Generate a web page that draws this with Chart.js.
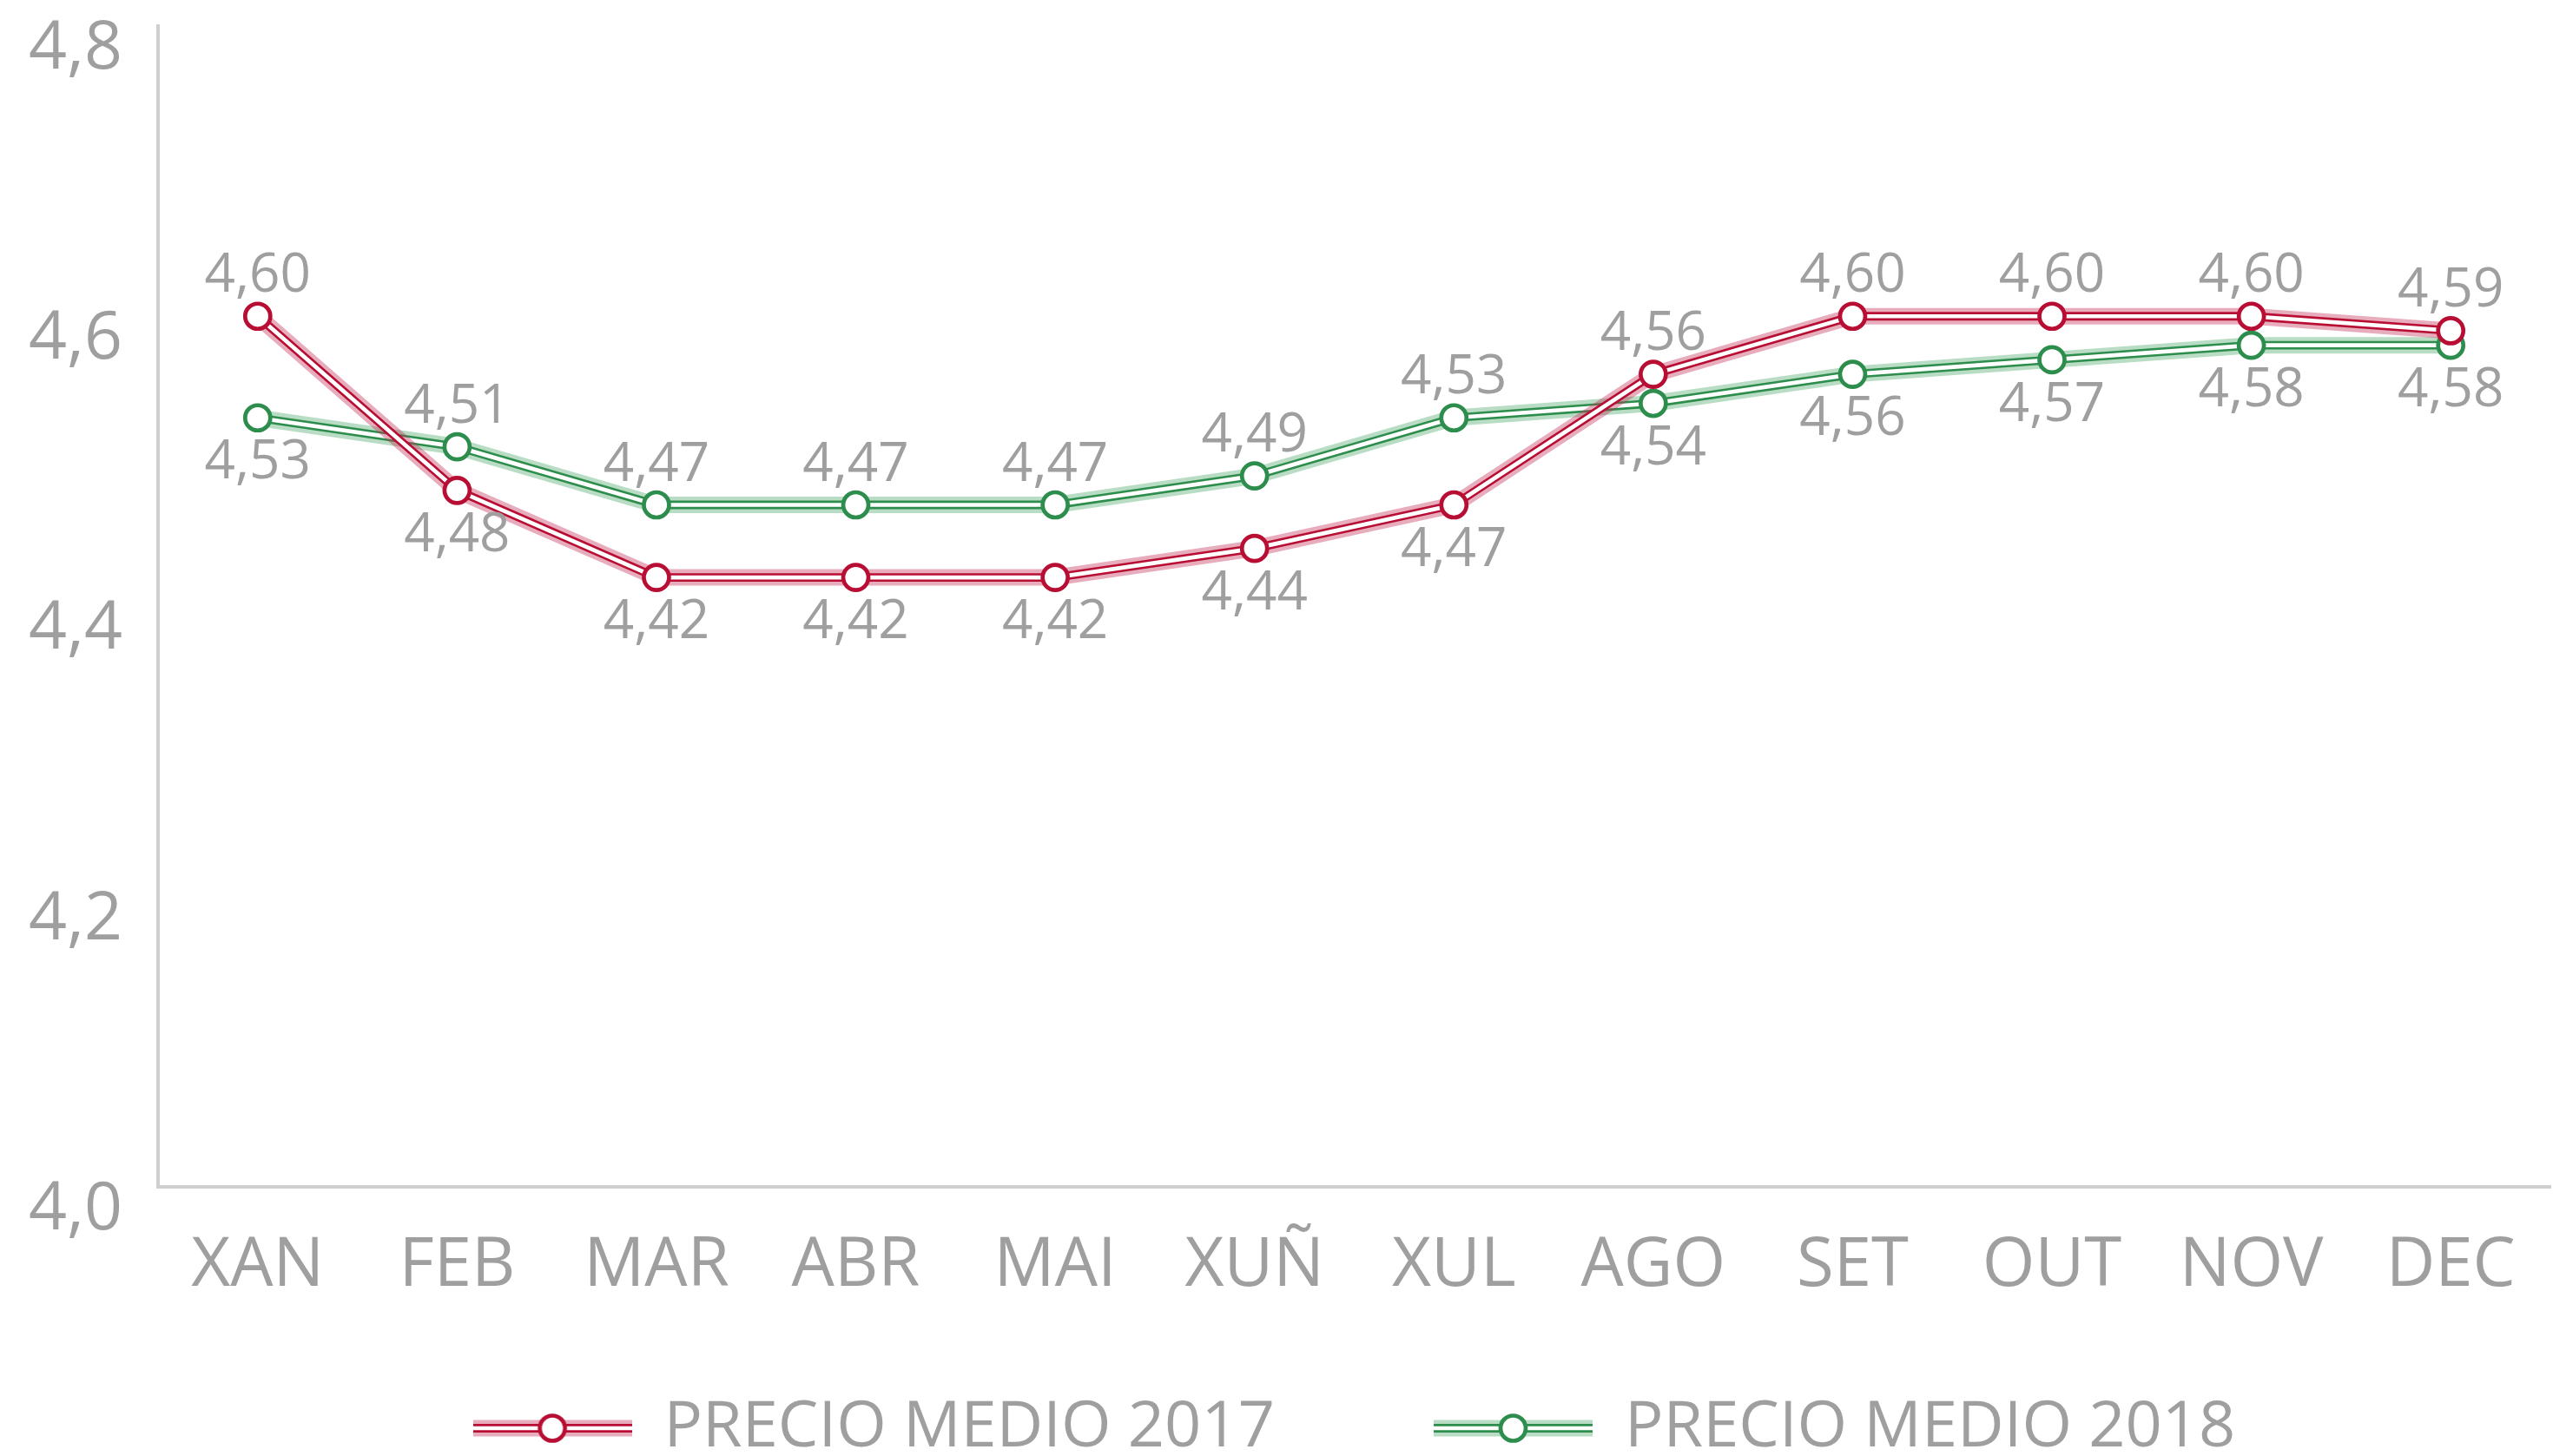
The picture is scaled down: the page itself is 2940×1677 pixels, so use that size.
<!DOCTYPE html>
<html>
<head>
<meta charset="utf-8">
<script src="https://cdn.jsdelivr.net/npm/chart.js@4.4.1/dist/chart.umd.min.js"></script>
<style>
html,body{margin:0;padding:0;background:#fff;overflow:hidden}
#wrap{width:2940px;height:1677px;position:relative}
</style>
</head>
<body>
<div id="wrap"><canvas id="c"></canvas></div>
<script>
// ---- data ----
const months = ['XAN','FEB','MAR','ABR','MAI','XUÑ','XUL','AGO','SET','OUT','NOV','DEC'];
const seriesNames = ['PRECIO MEDIO 2017','PRECIO MEDIO 2018'];
const precio2017 = [4.60,4.48,4.42,4.42,4.42,4.44,4.47,4.56,4.60,4.60,4.60,4.59];
const precio2018 = [4.53,4.51,4.47,4.47,4.47,4.49,4.53,4.54,4.56,4.57,4.58,4.58];
const yTickLabels = ['4,0','4,2','4,4','4,6','4,8'];

// ---- style ----
const FONT = '"Open Sans", "Noto Sans", sans-serif';
const TEXT = '#9f9f9f';
const AXIS = '#cfcfcf';
const RED = '#b90e34';
const RED_SH = 'rgba(195,50,90,0.40)';
const GREEN = '#2d8d4c';
const GREEN_SH = 'rgba(70,165,100,0.38)';
const LINE_W = 9.8, CORE_W = 4.7, SH_W = 19, PT_R = 14.5, PT_BW = 4.7;
const LABEL_SIZE = 62, LABEL_OFF_UP = 50, LABEL_OFF_DOWN = 48;
const LEGEND_FONT = 74, LEGEND_PAD = 10, LEGEND_SHIFT = 15;

function makeIcon(color, shadow){
  const c = document.createElement('canvas');
  c.width = 183; c.height = 46;
  const g = c.getContext('2d');
  const y = 23;
  g.lineCap = 'butt';
  g.strokeStyle = shadow; g.lineWidth = SH_W;
  g.beginPath(); g.moveTo(0, y); g.lineTo(183, y); g.stroke();
  g.strokeStyle = color; g.lineWidth = LINE_W;
  g.beginPath(); g.moveTo(0, y); g.lineTo(183, y); g.stroke();
  g.strokeStyle = '#fff'; g.lineWidth = CORE_W;
  g.beginPath(); g.moveTo(0, y); g.lineTo(183, y); g.stroke();
  g.beginPath(); g.arc(91.5, y, PT_R, 0, Math.PI * 2);
  g.fillStyle = '#fff'; g.fill();
  g.lineWidth = PT_BW; g.strokeStyle = color; g.stroke();
  return c;
}
const legendIcons = [makeIcon(RED, RED_SH), makeIcon(GREEN, GREEN_SH)];

function seriesDatasets(values, color, shadow, idx, baseOrder){
  return [
    {label: seriesNames[idx], role: 'points', series: idx, data: values, showLine: false,
     pointRadius: PT_R, pointHoverRadius: PT_R, pointBorderWidth: PT_BW,
     pointBackgroundColor: '#fff', pointBorderColor: color, order: baseOrder},
    {label: seriesNames[idx] + ' core', role: 'core', data: values, borderColor: '#fff',
     borderWidth: CORE_W, pointRadius: 0, tension: 0, order: baseOrder + 1},
    {label: seriesNames[idx] + ' line', role: 'line', data: values, borderColor: color,
     borderWidth: LINE_W, pointRadius: 0, tension: 0, order: baseOrder + 2},
    {label: seriesNames[idx] + ' shadow', role: 'shadow', data: values, borderColor: shadow,
     borderWidth: SH_W, pointRadius: 0, tension: 0, order: baseOrder + 3}
  ];
}

const legendShift = {
  id: 'legendShift',
  afterLayout(chart){
    if (chart.legend){ chart.legend.top += LEGEND_SHIFT; chart.legend.bottom += LEGEND_SHIFT; }
  }
};

const valueLabels = {
  id: 'valueLabels',
  afterDatasetsDraw(chart){
    const ctx = chart.ctx;
    const series = [precio2017, precio2018];
    ctx.save();
    ctx.font = LABEL_SIZE + 'px ' + FONT;
    ctx.fillStyle = TEXT;
    ctx.textAlign = 'center';
    ctx.textBaseline = 'alphabetic';
    chart.data.datasets.forEach((ds, di) => {
      if (ds.role !== 'points') return;
      const meta = chart.getDatasetMeta(di);
      const own = series[ds.series], other = series[1 - ds.series];
      meta.data.forEach((pt, i) => {
        const above = own[i] >= other[i];
        const cy = above ? pt.y - LABEL_OFF_UP : pt.y + LABEL_OFF_DOWN;
        ctx.fillText(own[i].toFixed(2).replace('.', ','), pt.x, cy + 0.357 * LABEL_SIZE);
      });
    });
    ctx.restore();
  }
};

const LEGEND_H = LEGEND_FONT + LEGEND_PAD + 10;

new Chart(document.getElementById('c'), {
  type: 'line',
  data: {
    labels: months,
    datasets: [
      ...seriesDatasets(precio2017, RED, RED_SH, 0, 0),
      ...seriesDatasets(precio2018, GREEN, GREEN_SH, 1, 10)
    ]
  },
  options: {
    responsive: true,
    maintainAspectRatio: false,
    animation: false,
    events: [],
    layout: {autoPadding: false, padding: {top: 30, right: 3, left: 0, bottom: 0}},
    plugins: {
      tooltip: {enabled: false},
      legend: {
        position: 'bottom',
        fullSize: false,
        labels: {
          usePointStyle: true,
          pointStyleWidth: 183,
          padding: LEGEND_PAD,
          color: TEXT,
          font: {family: FONT, size: LEGEND_FONT},
          generateLabels(){
            return seriesNames.map((n, i) => ({
              text: i === 0 ? n + '         ' : n,
              fillStyle: 'transparent',
              strokeStyle: 'transparent',
              lineWidth: 0,
              pointStyle: legendIcons[i],
              fontColor: TEXT,
              hidden: false,
              datasetIndex: i * 4
            }));
          }
        }
      }
    },
    scales: {
      x: {
        type: 'category',
        offset: true,
        grid: {display: false, drawTicks: false},
        border: {display: true, color: AXIS, width: 4},
        ticks: {color: TEXT, font: {family: FONT, size: 78}, padding: 45, maxRotation: 0, autoSkip: false},
        afterFit(s){ s.height = 1677 - LEGEND_H - 1367; s.paddingLeft = 0; s.paddingRight = 0; }
      },
      y: {
        min: 4.0,
        max: 4.8,
        grid: {display: false, drawTicks: false},
        border: {display: true, color: AXIS, width: 4},
        ticks: {
          stepSize: 0.2,
          color: TEXT,
          font: {family: FONT, size: 77},
          padding: 41,
          labelOffset: 27,
          callback: (v, i) => yTickLabels[i]
        },
        afterFit(s){ s.width = 182; s.paddingTop = 0; s.paddingBottom = 0; }
      }
    }
  },
  plugins: [legendShift, valueLabels]
});
</script>
</body>
</html>
